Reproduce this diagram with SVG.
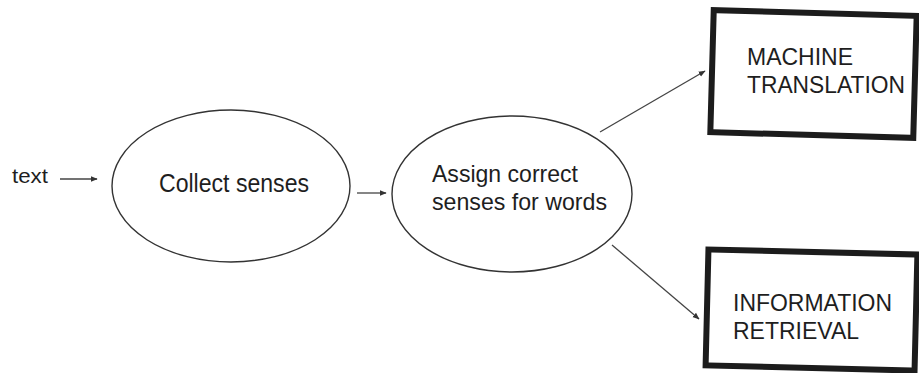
<svg xmlns="http://www.w3.org/2000/svg" width="919" height="373" viewBox="0 0 919 373">
<style>
.bg{fill:#ffffff}
.ell{fill:none;stroke:#333;stroke-width:1.4}
.box{fill:#fff;stroke:#1c1c1c;stroke-width:6}
.lbl{font-family:"Liberation Sans",Arial,sans-serif;fill:#1e1e1e}
.edge{stroke:#444;stroke-width:1.3;fill:none}
</style>
<defs>
<marker id="ah" viewBox="0 0 10 10" refX="9" refY="5" markerWidth="7" markerHeight="7" markerUnits="userSpaceOnUse" orient="auto">
<path d="M0,1 L10,5 L0,9 Z" fill="#333"/>
</marker>
</defs>
<rect class="bg" x="0" y="0" width="919" height="373"/>
<g id="text-input">
<text class="lbl" x="12" y="183" font-size="20" textLength="36" lengthAdjust="spacingAndGlyphs">text</text>
</g>
<g id="collect">
<ellipse class="ell" cx="231" cy="186" rx="119" ry="76"/>
<text class="lbl" x="159" y="192" font-size="25" textLength="150" lengthAdjust="spacingAndGlyphs">Collect senses</text>
</g>
<g id="assign">
<ellipse class="ell" cx="512" cy="194" rx="120" ry="78"/>
<text class="lbl" x="432" y="182" font-size="24" textLength="146" lengthAdjust="spacingAndGlyphs">Assign correct</text>
<text class="lbl" x="432" y="210" font-size="24" textLength="175" lengthAdjust="spacingAndGlyphs">senses for words</text>
</g>
<g id="mt">
<rect class="box" x="712" y="13" width="203" height="122" transform="rotate(1.6 813 74)"/>
<text class="lbl" x="747" y="65" font-size="24" textLength="106" lengthAdjust="spacingAndGlyphs">MACHINE</text>
<text class="lbl" x="747" y="93" font-size="24" textLength="158" lengthAdjust="spacingAndGlyphs">TRANSLATION</text>
</g>
<g id="ir">
<rect class="box" x="707" y="252" width="209" height="116" transform="rotate(1.4 811 310)"/>
<text class="lbl" x="733" y="311" font-size="23" textLength="159" lengthAdjust="spacingAndGlyphs">INFORMATION</text>
<text class="lbl" x="733" y="339" font-size="23" textLength="126" lengthAdjust="spacingAndGlyphs">RETRIEVAL</text>
</g>
<g id="connectors">
<line class="edge" x1="60" y1="179" x2="97" y2="179" marker-end="url(#ah)"/>
<line class="edge" x1="357" y1="193" x2="386" y2="193" marker-end="url(#ah)"/>
<line class="edge" x1="600" y1="132" x2="705" y2="71" marker-end="url(#ah)"/>
<line class="edge" x1="612" y1="245" x2="699" y2="319" marker-end="url(#ah)"/>
</g>
</svg>
